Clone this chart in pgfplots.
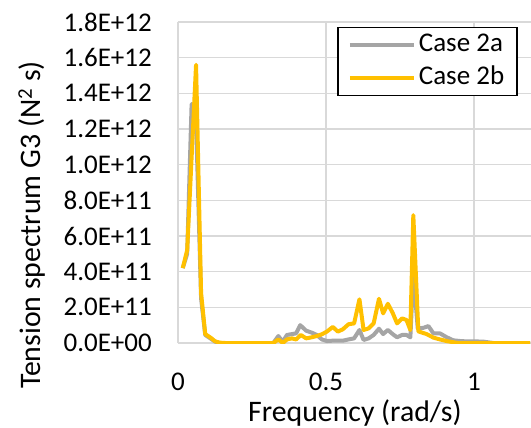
\documentclass[border=0pt]{standalone}
\usepackage{fontspec}
\setmainfont{Carlito}
\usepackage{pgfplots}
\pgfplotsset{compat=1.18}
\definecolor{c2a}{HTML}{A5A5A5}
\definecolor{c2b}{HTML}{FFC000}
\definecolor{gridc}{HTML}{D9D9D9}
\newcommand{\bigf}{\fontsize{27bp}{32bp}\selectfont}
\newcommand{\labf}{\fontsize{29.8bp}{34bp}\selectfont}
\begin{document}
\begin{tikzpicture}
\begin{axis}[
  scale only axis,
  width=353bp, height=321bp,
  xmin=0, xmax=1.1926,
  ymin=0, ymax=1.8e12,
  axis line style={draw=none},
  major tick length=0pt,
  xtick={0,0.5,1},
  xticklabels={0,0.5,1},
  ytick={0,2e11,4e11,6e11,8e11,1e12,1.2e12,1.4e12,1.6e12,1.8e12},
  yticklabels={0.0E+00,2.0E+11,4.0E+11,6.0E+11,8.0E+11,1.0E+12,1.2E+12,1.4E+12,1.6E+12,1.8E+12},
  scaled y ticks=false,
  grid=major,
  major grid style={draw=gridc, line width=1.5bp},
  xticklabel style={font=\bigf, anchor=center, yshift=-39bp},
  yticklabel style={font=\bigf, anchor=east, inner sep=0pt, xshift=-26bp},
  xlabel={Frequency (rad/s)},
  ylabel={Tension spectrum G3 (N\textsuperscript{2} s)},
  every axis x label/.style={at={(axis description cs:0.501,-0.219)}, anchor=center, font=\labf},
  every axis y label/.style={at={(axis description cs:-0.4136,0.3676)}, anchor=center, rotate=90, font=\labf},
  legend style={at={(axis description cs:0.963,0.985)}, anchor=north east, draw=black, line width=1.5bp, font=\bigf, fill=white,
    inner xsep=10bp, inner ysep=1bp,
    nodes={inner sep=3bp, text height=20bp, text depth=7bp}},
  legend cell align=left,
  legend image code/.code={\draw[#1] (0bp,0bp) -- (64bp,0bp);},
]
\addplot[c2a, line width=4bp, line join=round] coordinates {
(0.016,4.2e11) (0.031,5.0e11) (0.046,1.34e12) (0.061,1.25e12) (0.078,2.5e11) (0.092,4.5e10)
(0.110,2.5e10) (0.125,8e9) (0.140,0) (0.322,0) (0.339,3.9e10) (0.354,7e9) (0.368,4.5e10)
(0.385,5.0e10) (0.399,5.4e10) (0.413,1.0e11) (0.433,6.9e10) (0.452,5.8e10) (0.469,4.5e10)
(0.486,2.0e10) (0.503,1.1e10) (0.523,1.3e10) (0.540,1.3e10) (0.557,1.3e10) (0.576,2.0e10)
(0.595,2.6e10) (0.613,7.3e10) (0.627,1.7e10) (0.644,2.6e10) (0.661,4.5e10) (0.679,8.0e10)
(0.693,5.0e10) (0.709,7.3e10) (0.726,4.9e10) (0.740,3.2e10) (0.757,4.5e10) (0.772,4.5e10)
(0.785,3.2e10) (0.795,3.9e11) (0.810,8.2e10) (0.829,8.5e10) (0.846,9.5e10) (0.863,5.4e10)
(0.885,5.4e10) (0.908,3.2e10) (0.930,1.5e10) (0.960,1.0e10) (1.030,8e9) (1.065,0) (1.19,0)
};
\addlegendentry{Case 2a}
\addplot[c2b, line width=4bp, line join=round] coordinates {
(0.016,4.2e11) (0.031,5.2e11) (0.046,1.04e12) (0.061,1.56e12) (0.078,2.8e11) (0.092,5.0e10)
(0.110,3.0e10) (0.125,1.0e10) (0.140,2e9) (0.160,0) (0.322,0) (0.339,2.0e10) (0.354,0)
(0.368,2.0e10) (0.385,2.6e10) (0.399,2.0e10) (0.415,4.5e10) (0.433,2.6e10) (0.452,3.2e10)
(0.469,3.9e10) (0.486,4.9e10) (0.503,6.4e10) (0.523,9.0e10) (0.540,6.4e10) (0.557,7.7e10)
(0.576,1.05e11) (0.595,1.1e11) (0.613,2.45e11) (0.627,7.3e10) (0.644,8.2e10) (0.661,1.1e11)
(0.679,2.48e11) (0.693,1.66e11) (0.709,2.2e11) (0.726,1.66e11) (0.740,1.1e11) (0.757,1.38e11)
(0.772,1.29e11) (0.785,7.3e10) (0.795,7.17e11) (0.812,6.5e10) (0.840,5.0e10) (0.863,3.0e10)
(0.885,2.0e10) (0.910,1.0e10) (0.945,0) (1.19,0)
};
\addlegendentry{Case 2b}
\end{axis}
\pgfresetboundingbox
\path[use as bounding box] (-178bp,-85bp) rectangle (353bp,343bp);
\end{tikzpicture}
\end{document}
